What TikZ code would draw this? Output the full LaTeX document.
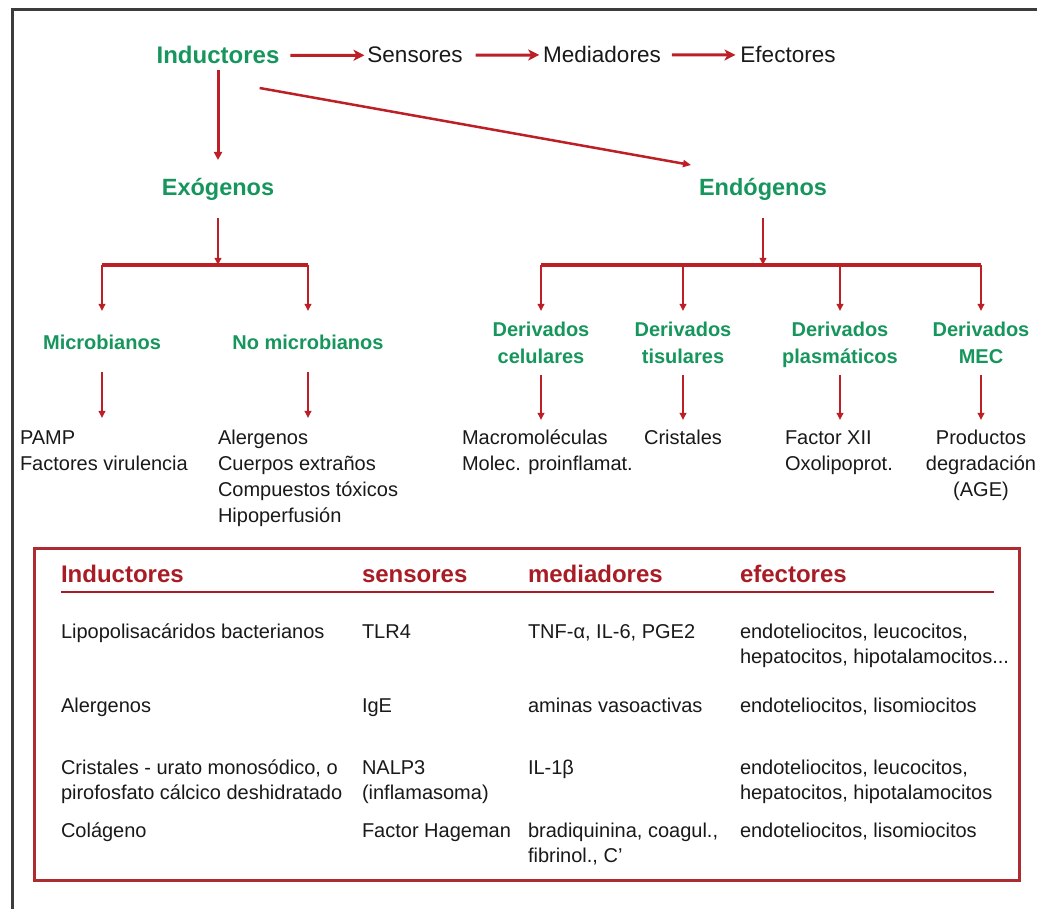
\documentclass[tikz,border=0pt]{standalone}
\usepackage{fontspec}
\setmainfont{Liberation Sans}
\usetikzlibrary{arrows.meta}
\definecolor{grn}{RGB}{22,150,92}
\definecolor{arrred}{RGB}{188,32,38}
\definecolor{hdrred}{RGB}{168,28,38}
\definecolor{boxred}{RGB}{172,44,50}
\definecolor{frm}{RGB}{60,60,60}
\definecolor{txt}{RGB}{25,25,25}
\newcommand{\ctrlines}[1]{\vtop{\halign{\hfil##\hfil\cr#1\crcr}}}
\newcommand{\leftlines}[1]{\vtop{\halign{##\hfil\cr#1\crcr}}}
\begin{document}
\begin{tikzpicture}[x=1pt,y=-1pt,
  every node/.style={inner sep=0pt,outer sep=0pt},
  topg/.style={font=\fontsize{24}{28}\selectfont\bfseries,text=grn,anchor=base},
  topb/.style={font=\fontsize{22.5}{27}\selectfont,text=txt,anchor=base},
  lvone/.style={font=\fontsize{23.5}{28}\selectfont\bfseries,text=grn,anchor=base},
  lvtwo/.style={font=\fontsize{20}{27}\selectfont\bfseries,text=grn,anchor=base},
  leaf/.style={font=\fontsize{20}{25.7}\selectfont,text=txt,anchor=base west},
  leafc/.style={font=\fontsize{20}{25.7}\selectfont,text=txt,anchor=base},
  hdr/.style={font=\fontsize{24}{28}\selectfont\bfseries,text=hdrred,anchor=base west},
  cell/.style={font=\fontsize{20}{25}\selectfont,text=txt,anchor=base west},
  harr/.style={draw=arrred,line width=3pt,-{Stealth[length=11pt,width=11pt,inset=3pt]}},
  varr/.style={draw=arrred,line width=3pt,-{Triangle[length=8pt,width=8pt]}},
  darr/.style={draw=arrred,line width=2.5pt,-{Triangle[length=8pt,width=7pt]}},
  sarr/.style={draw=arrred,line width=2pt,-{Triangle[length=7pt,width=6.5pt]}},
  barl/.style={draw=arrred,line width=3.5pt},
]
\useasboundingbox (0,0) rectangle (1037,909);
\fill[white] (0,0) rectangle (1037,909);
\draw[frm,line width=3pt] (12,909) -- (12,10) -- (1037,10);

% top row
\node[topg] (ind) at (218,64) {Inductores};
\node[topb] (sen) at (415,63) {Sensores};
\node[topb] (med) at (602,63) {Mediadores};
\node[topb] (efe) at (788,63) {Efectores};
\draw[harr,shorten <=11pt,shorten >=3pt] (ind.east) -- (sen.west);
\draw[harr,shorten <=13pt,shorten >=4pt] (sen.east) -- (med.west);
\draw[harr,shorten <=11pt,shorten >=5pt] (med.east) -- (efe.west);

% level one
\node[lvone] (exo) at (218,196) {Exógenos};
\node[lvone] (endo) at (763,196) {Endógenos};
\draw[varr] ([yshift=-6pt]ind.base) -- ([yshift=36pt]exo.base);
\draw[darr] ([shift={(103pt,-24pt)}]ind.base west) -- ([shift={(-8pt,31pt)}]endo.base west);

% level two
\node[lvtwo] (mic) at (102,350) {Microbianos};
\node[lvtwo] (nom) at (308,350) {No microbianos};
\node[lvtwo] (dc) at (541,337) {\ctrlines{Derivados\cr celulares}};
\node[lvtwo] (dt) at (683,337) {\ctrlines{Derivados\cr tisulares}};
\node[lvtwo] (dp) at (840,337) {\ctrlines{Derivados\cr plasmáticos}};
\node[lvtwo] (dm) at (981,337) {\ctrlines{Derivados\cr MEC}};

\coordinate (exoj) at (218,265);
\coordinate (endj) at (763,265);
\draw[sarr] ([yshift=-22pt]exo.base) -- (exoj);
\draw[sarr] ([yshift=-22pt]endo.base) -- (endj);
\draw[barl] (mic.base |- exoj) -- (nom.base |- exoj);
\draw[barl] (dc.base |- endj) -- (dm.base |- endj);
\draw[sarr] (mic.base |- exoj) -- ([yshift=39pt]mic.base);
\draw[sarr] (nom.base |- exoj) -- ([yshift=39pt]nom.base);
\draw[sarr] (dc.base |- endj) -- ([yshift=26pt]dc.base);
\draw[sarr] (dt.base |- endj) -- ([yshift=26pt]dt.base);
\draw[sarr] (dp.base |- endj) -- ([yshift=26pt]dp.base);
\draw[sarr] (dm.base |- endj) -- ([yshift=26pt]dm.base);

% leaves
\node[leaf] (pamp) at (20,445) {\leftlines{PAMP\cr Factores virulencia}};
\node[leaf] (aler) at (218,445) {\leftlines{Alergenos\cr Cuerpos extraños\cr Compuestos tóxicos\cr Hipoperfusión}};
\node[leaf] (macro) at (462,445) {\leftlines{Macromoléculas\cr Molec. proinflamat.}};
\node[leafc] (cris) at (683,445) {Cristales};
\node[leaf] (fxii) at (785,445) {\leftlines{Factor XII\cr Oxolipoprot.}};
\node[leafc] (prod) at (981,445) {\ctrlines{Productos\cr degradación\cr (AGE)}};

\draw[sarr] ([yshift=-22pt]mic.base) -- ([yshift=27pt]mic.base |- pamp.base);
\draw[sarr] ([yshift=-22pt]nom.base) -- ([yshift=27pt]nom.base |- aler.base);
\draw[sarr] ([yshift=-38pt]dc.base) -- ([yshift=25pt]dc.base |- macro.base);
\draw[sarr] ([yshift=-38pt]dt.base) -- ([yshift=25pt]cris.base);
\draw[sarr] ([yshift=-38pt]dp.base) -- ([yshift=25pt]dp.base |- fxii.base);
\draw[sarr] ([yshift=-38pt]dm.base) -- ([yshift=25pt]prod.base);

% table
\draw[boxred,line width=3pt] (34,548) rectangle (1019,880);
\node[hdr] (h1) at (61,582) {Inductores};
\node[hdr] (h2) at (362,582) {sensores};
\node[hdr] (h3) at (528,582) {mediadores};
\node[hdr] (h4) at (740,582) {efectores};
\draw[hdrred,line width=2pt] ([yshift=-10pt]h1.base west) -- (994,592);

\node[cell] (a1) at (61,638) {Lipopolisacáridos bacterianos};
\node[cell] (b1) at (362,638) {TLR4};
\node[cell] (c1) at (528,638) {TNF-α, IL-6, PGE2};
\node[cell] (d1) at (740,638) {\leftlines{endoteliocitos, leucocitos,\cr hepatocitos, hipotalamocitos...}};

\node[cell] (a2) at (61,712) {Alergenos};
\node[cell] (b2) at (362,712) {IgE};
\node[cell] (c2) at (528,712) {aminas vasoactivas};
\node[cell] (d2) at (740,712) {endoteliocitos, lisomiocitos};

\node[cell] (a3) at (61,774) {\leftlines{Cristales - urato monosódico, o\cr pirofosfato cálcico deshidratado}};
\node[cell] (b3) at (362,774) {\leftlines{NALP3\cr (inflamasoma)}};
\node[cell] (c3) at (528,774) {IL-1β};
\node[cell] (d3) at (740,774) {\leftlines{endoteliocitos, leucocitos,\cr hepatocitos, hipotalamocitos}};

\node[cell] (a4) at (61,837) {Colágeno};
\node[cell] (b4) at (362,837) {Factor Hageman};
\node[cell] (c4) at (528,837) {\leftlines{bradiquinina, coagul.,\cr fibrinol., C’}};
\node[cell] (d4) at (740,837) {endoteliocitos, lisomiocitos};
\end{tikzpicture}
\end{document}
